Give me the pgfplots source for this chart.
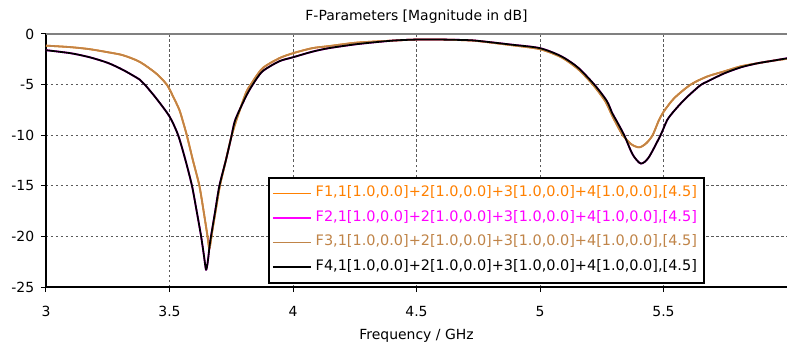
\documentclass[border=0pt]{standalone}
\usepackage{fontspec}
\setmainfont{DejaVu Sans}
\usepackage{pgfplots}
\usepackage{pgfplotstable}
\pgfplotsset{compat=1.18}
\usetikzlibrary{calc}
\definecolor{cOrange}{RGB}{255,128,0}
\definecolor{cMag}{RGB}{255,0,255}
\definecolor{cTan}{RGB}{192,132,72}
\definecolor{cGrid}{RGB}{90,90,90}
\pgfplotstableread{
x y
3.00 -1.15
3.10 -1.30
3.177 -1.50
3.25 -1.80
3.312 -2.10
3.379 -2.75
3.446 -3.90
3.489 -5.00
3.515 -6.20
3.540 -7.50
3.555 -8.70
3.570 -10.0
3.595 -12.5
3.621 -15.0
3.640 -17.8
3.654 -20.0
3.661 -21.2
3.667 -20.5
3.673 -19.5
3.688 -17.3
3.704 -15.0
3.728 -12.5
3.750 -10.2
3.771 -8.5
3.809 -5.85
3.829 -5.0
3.876 -3.4
3.944 -2.4
4.000 -1.9
4.078 -1.4
4.145 -1.2
4.26 -0.85
4.40 -0.66
4.50 -0.55
4.60 -0.55
4.70 -0.62
4.75 -0.70
4.884 -1.10
5.000 -1.50
5.086 -2.30
5.153 -3.45
5.214 -5.00
5.263 -6.60
5.287 -7.80
5.301 -8.50
5.335 -10.0
5.370 -10.9
5.402 -11.2
5.430 -10.8
5.456 -10.0
5.480 -8.6
5.500 -7.7
5.543 -6.35
5.610 -5.0
5.677 -4.2
5.745 -3.7
5.812 -3.2
5.879 -2.9
5.940 -2.65
6.000 -2.45
}\tanA
\pgfplotstableread{
x y
3.00 -1.60
3.10 -1.90
3.177 -2.30
3.25 -2.85
3.312 -3.55
3.379 -4.50
3.400 -5.00
3.446 -6.35
3.500 -8.15
3.535 -10.0
3.565 -12.5
3.591 -15.0
3.610 -17.5
3.628 -20.0
3.640 -22.0
3.648 -23.3
3.655 -22.5
3.662 -21.0
3.668 -20.0
3.685 -17.5
3.702 -15.0
3.728 -12.5
3.750 -10.2
3.766 -8.5
3.809 -6.2
3.837 -5.0
3.876 -3.7
3.944 -2.7
4.000 -2.3
4.078 -1.75
4.145 -1.4
4.26 -1.0
4.40 -0.66
4.50 -0.55
4.60 -0.55
4.70 -0.60
4.75 -0.68
4.884 -1.05
5.000 -1.40
5.086 -2.20
5.153 -3.30
5.220 -5.00
5.270 -6.60
5.292 -7.80
5.308 -8.50
5.341 -10.0
5.375 -11.9
5.408 -12.8
5.440 -12.2
5.488 -10.0
5.515 -8.5
5.543 -7.6
5.580 -6.6
5.610 -5.9
5.650 -5.05
5.677 -4.7
5.745 -3.9
5.812 -3.3
5.879 -2.9
5.940 -2.65
6.000 -2.40
}\blkA
\begin{document}
\fontsize{14}{17}\selectfont
\begin{tikzpicture}
\begin{axis}[name=ax, scale only axis, width=741bp, height=253bp,
  xmin=3, xmax=6, ymin=-25, ymax=0,
  xtick={3,3.5,4,4.5,5,5.5,6}, xticklabels={3,3.5,4,4.5,5,5.5,},
  ytick={-25,-20,-15,-10,-5,0}, yticklabels={-25,-20,-15,-10,-5,0},
  axis x line*=bottom, axis y line*=left,
  axis line style={black, line width=1.6bp, -},
  tick align=outside, major tick length=5bp,
  tick style={black, line width=1bp},
  grid=major,
  major grid style={cGrid, line width=0.9bp, dash pattern=on 2.5bp off 2.5bp},
  ticklabel style={font=\fontsize{14}{17}\selectfont},
  xticklabel style={yshift=-9bp},
  yticklabel style={xshift=-2bp},
  title={F-Parameters [Magnitude in dB]},
  title style={font=\fontsize{14}{17}\selectfont, at={(axis description cs:0.5,1)}, anchor=center, yshift=11bp},
  xlabel={Frequency / GHz},
  xlabel style={font=\fontsize{14}{17}\selectfont, at={(axis description cs:0.5,0)}, anchor=center, yshift=-49bp},
  clip mode=individual,
  legend style={at={(0.889,0.435)}, anchor=north east, draw=black, line width=1.6bp, fill=white,
    inner xsep=3bp, inner ysep=3.5bp, row sep=0pt,
    font=\fontsize{14.5}{17}\selectfont,
    nodes={text height=11bp, text depth=4bp, inner ysep=4.75bp, inner xsep=4bp}},
  legend cell align=left,
  legend image code/.code={\draw[#1, line width=1.8bp] (0bp,0bp) -- (38bp,0bp);},
]
\addplot[cOrange, line width=1.8bp, smooth, tension=0.45, line join=round] table {\tanA};
\addlegendentry{\textcolor{cOrange}{F1,1[1.0,0.0]+2[1.0,0.0]+3[1.0,0.0]+4[1.0,0.0],[4.5]}}
\addplot[cMag, line width=1.8bp, smooth, tension=0.45, line join=round] table {\blkA};
\addlegendentry{\textcolor{cMag}{F2,1[1.0,0.0]+2[1.0,0.0]+3[1.0,0.0]+4[1.0,0.0],[4.5]}}
\addplot[cTan, line width=1.8bp, smooth, tension=0.45, line join=round] table {\tanA};
\addlegendentry{\textcolor{cTan}{F3,1[1.0,0.0]+2[1.0,0.0]+3[1.0,0.0]+4[1.0,0.0],[4.5]}}
\addplot[black, line width=1.8bp, smooth, tension=0.45, line join=round] table {\blkA};
\addlegendentry{\textcolor{black}{F4,1[1.0,0.0]+2[1.0,0.0]+3[1.0,0.0]+4[1.0,0.0],[4.5]}}
\draw[gray, line width=1.2bp] (rel axis cs:0,1) -- (rel axis cs:1,1);
\end{axis}
\pgfresetboundingbox
\path[use as bounding box] ($(ax.south west)+(-46bp,-62bp)$) rectangle ($(ax.north east)+(0,34bp)$);
\end{tikzpicture}
\end{document}
